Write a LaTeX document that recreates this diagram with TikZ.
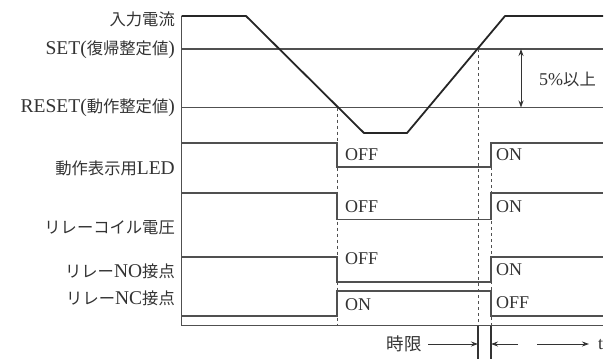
\documentclass[tikz,border=0pt]{standalone}
\usepackage{fontspec}
\setmainfont{Liberation Serif}
\newfontfamily\jpfam{Noto Sans CJK JP}
\newcommand\J[1]{{\jpfam\fontsize{16.3}{18}\selectfont #1}}
\usetikzlibrary{arrows.meta}
\definecolor{ink}{HTML}{333333}
\definecolor{sig}{HTML}{505050}
\tikzset{
  sigline/.style={draw=sig, line width=1.1pt},
  curline/.style={draw=black!85, line width=1.8pt, line join=round},
  dashline/.style={draw=sig, line width=0.9pt, dash pattern=on 3pt off 3pt},
  lbl/.style={anchor=east, text=ink, inner sep=0pt, font=\fontsize{19.5}{20}\selectfont},
  state/.style={anchor=west, text=ink, inner sep=0pt, font=\fontsize{18}{20}\selectfont},
  tarrow/.style={draw=ink, line width=0.9pt, -{Stealth[length=7pt,width=5pt]}},
}
\begin{document}
\begin{tikzpicture}[x=1pt,y=-1pt]
\useasboundingbox (0,0) rectangle (610,359);
% key coordinates
\coordinate (ax0) at (181.5,16);
\coordinate (ax1) at (181.5,325.5);
\coordinate (base1) at (603,325.5);
% axis and baseline
\draw[sigline] (ax0) -- (ax1) -- (base1);
% SET / RESET levels
\coordinate (set0) at (181.5,49); \coordinate (set1) at (603,49);
\coordinate (rst0) at (181.5,107.5); \coordinate (rst1) at (603,107.5);
\draw[sigline] (set0) -- (set1);
\draw[sigline] (rst0) -- (rst1);
% input current
\draw[curline] (ax0) -- (246,16) -- (364,133) -- (407,133) -- (505,16) -- (603,16);
% dashed markers
\draw[dashline] (337,107.5) -- (337,325.5);
\draw[dashline] (478,49) -- (478,325.5);
\draw[dashline] (491,167) -- (491,325.5);
% LED
\draw[sigline] (181.5,143) -- (337,143) -- (337,167) -- (491,167) -- (491,143) -- (603,143);
% coil
\draw[sigline] (181.5,193) -- (337,193) -- (337,219.5) -- (491,219.5) -- (491,193) -- (603,193);
% NO
\draw[sigline] (181.5,257) -- (337,257) -- (337,282) -- (491,282) -- (491,257) -- (603,257);
% NC
\draw[sigline] (181.5,316) -- (337,316) -- (337,291) -- (491,291) -- (491,316) -- (603,316);
% time limit ticks
\coordinate (tA0) at (478,325.5); \coordinate (tA1) at (478,359);
\coordinate (tB0) at (491,325.5); \coordinate (tB1) at (491,359);
\draw[draw=ink, line width=1.1pt] (tA0) -- (tA1);
\draw[draw=ink, line width=1.1pt] (tB0) -- (tB1);
% left labels
\node[lbl] (l1) at (175,19) {\J{入力電流}};
\node[lbl] (l2) at (175,50) {SET(\J{復帰整定値})};
\node[lbl] (l3) at (175,107.5) {RESET(\J{動作整定値})};
\node[lbl] (l4) at (175,168) {\J{動作表示用}LED};
\node[lbl] (l5) at (175,228) {\J{リレーコイル電圧}};
\node[lbl] (l6) at (175,271.5) {\J{リレー}NO\J{接点}};
\node[lbl] (l7) at (175,298) {\J{リレー}NC\J{接点}};
% states
\node[state] (s1) at (345,155) {OFF};
\node[state] (s2) at (496,155) {ON};
\node[state] (s3) at (345,207) {OFF};
\node[state] (s4) at (496,207) {ON};
\node[state] (s5) at (345,258.5) {OFF};
\node[state] (s6) at (496,270) {ON};
\node[state] (s7) at (345,305) {ON};
\node[state] (s8) at (496,303) {OFF};
% 5% arrow
\coordinate (p0) at (521,49); \coordinate (p1) at (521,107.5);
\draw[draw=ink, line width=0.9pt, {Stealth[length=7pt,width=5pt]}-{Stealth[length=7pt,width=5pt]}] (p0) -- (p1);
\node[anchor=west, text=ink, inner sep=0pt, font=\fontsize{18}{20}\selectfont] (pct) at (539,79) {5\%\J{以上}};
% time limit arrows
\node[anchor=center, text=ink, inner sep=0pt, font=\jpfam\fontsize{17.5}{20}\selectfont] (jg) at (404,344) {時限};
\coordinate (ja0) at (428,344); \coordinate (ja1) at (478,344);
\coordinate (jb0) at (518,344); \coordinate (jb1) at (491,344);
\draw[tarrow] (ja0) -- (ja1);
\draw[tarrow] (jb0) -- (jb1);
\node[anchor=west, text=ink, inner sep=0pt, font=\fontsize{18}{20}\selectfont] (tt) at (598,345) {t};
\coordinate (ta0) at (537,344); \coordinate (ta1) at (589,344);
\draw[tarrow] (ta0) -- (ta1);
\end{tikzpicture}
\end{document}
